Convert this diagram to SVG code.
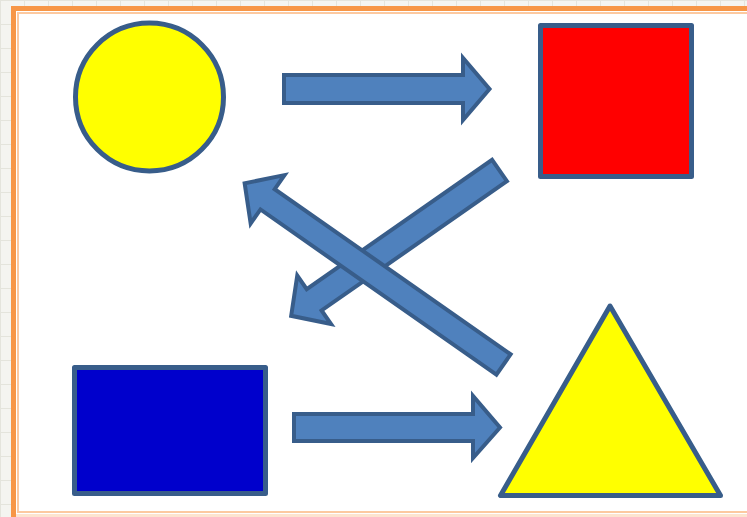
<svg xmlns="http://www.w3.org/2000/svg" width="747" height="517" viewBox="0 0 747 517">
  <defs>
    <style>
      .arrow { fill: #4f81bd; stroke: #385d8a; stroke-width: 4; stroke-linejoin: miter; }
      .shape { stroke: #385d8a; stroke-width: 5; stroke-linejoin: round; }
    </style>
    <pattern id="grid" width="24" height="24" patternUnits="userSpaceOnUse">
      <rect width="24" height="24" fill="#f4f4f0"/>
      <path d="M0 0.5H24M0.5 0V24" stroke="#e4e4dc" stroke-width="1"/>
    </pattern>
  </defs>
  <rect width="747" height="517" fill="url(#grid)"/>
  <g id="frame">
    <rect x="13.5" y="8.5" width="760" height="520" fill="#ffffff" stroke="#f79646" stroke-width="5"/>
    <rect x="18" y="13" width="760" height="499" fill="none" stroke="#fcc9a0" stroke-width="2"/>
    <rect x="16" y="514" width="731" height="3" fill="#fde4d0"/>
  </g>
  <g id="connectors">
    <path id="arrow-top" class="arrow" d="M284 75H463V58L489.5 89L463 120V103H284Z"/>
    <path id="arrow-bottom" class="arrow" d="M294 414H473V396L500 427.5L473 458V441H294Z"/>
    <path id="arrow-b" class="arrow" transform="translate(499.5 170.5) rotate(145.1)" d="M0 -13H226V-29.5L254 0L226 29.5V13H0Z"/>
    <path id="arrow-a" class="arrow" transform="translate(503.5 364.5) rotate(-145)" d="M0 -12.4H288V-29.5L316 0L288 29.5V12.4H0Z"/>
  </g>
  <g id="circle">
    <circle class="shape" cx="149.5" cy="97" r="74" fill="#ffff00" stroke-width="4.5"/>
  </g>
  <g id="red-square">
    <rect class="shape" x="540.5" y="25.5" width="151" height="151" fill="#ff0000"/>
  </g>
  <g id="blue-rect">
    <rect class="shape" x="74.5" y="367.5" width="191" height="126" fill="#0000cc"/>
  </g>
  <g id="triangle">
    <polygon class="shape" points="610,306 500.5,495.5 720.5,495.5" fill="#ffff00"/>
  </g>
</svg>
